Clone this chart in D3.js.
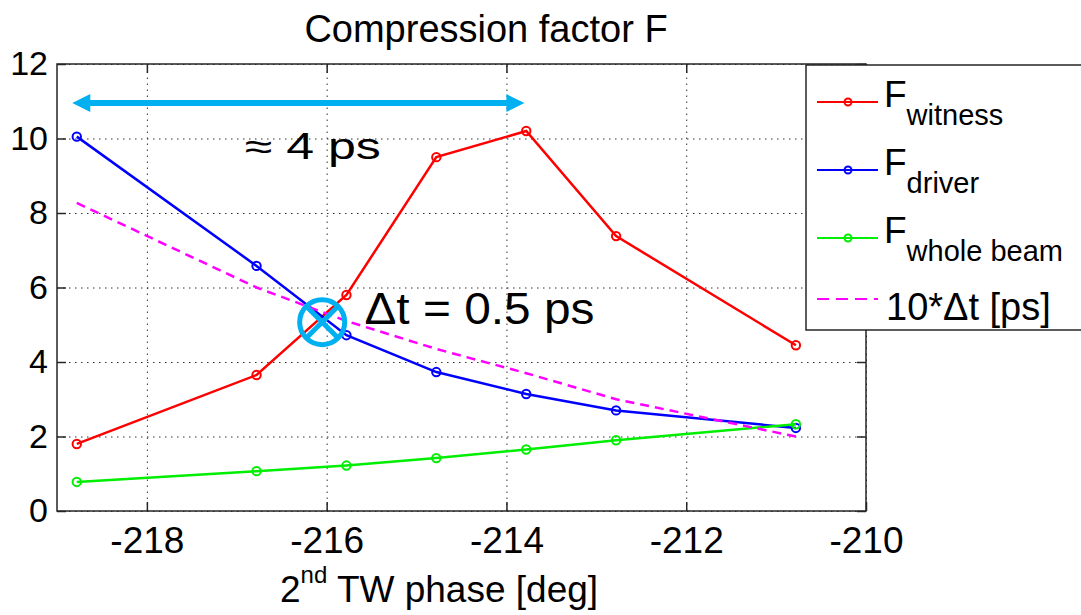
<!DOCTYPE html>
<html>
<head>
<meta charset="utf-8">
<script src="https://cdn.jsdelivr.net/npm/d3@7"></script>
<style>
  body { margin: 0; background: #fff; }
  svg text { font-family: "Liberation Sans", Arial, sans-serif; fill: #000; }
</style>
</head>
<body>
<div id="chart"></div>
<script>
// values
var phase = [-218.78, -216.78, -215.78, -214.78, -213.78, -212.78, -210.78];
var fWitness = [1.8, 3.65, 5.8, 9.5, 10.2, 7.38, 4.45];
var fDriver = [10.05, 6.58, 4.72, 3.73, 3.14, 2.7, 2.23];
var fWhole = [0.78, 1.07, 1.22, 1.42, 1.65, 1.9, 2.33];
var dt10 = [8.27, 6.0, 5.1, 4.35, 3.7, 3.0, 2.0];

var xTicks = [-218, -216, -214, -212, -210];
var yTicks = [0, 2, 4, 6, 8, 10, 12];
var seriesNames = ["witness", "driver", "whole beam"];

var svgWidth = 1081;
var svgHeight = 615;
var margin = { top: 64, right: 215, bottom: 104, left: 57 };
var width = svgWidth - margin.left - margin.right;
var height = svgHeight - margin.top - margin.bottom;

var svg = d3.select("#chart")
  .append("svg")
  .attr("width", svgWidth)
  .attr("height", svgHeight);

var chartGroup = svg.append("g")
  .attr("transform", `translate(${margin.left}, ${margin.top})`);

var xScale = d3.scaleLinear().domain([-219, -210]).range([0, width]);
var yScale = d3.scaleLinear().domain([0, 12]).range([height, 0]);

// grid
chartGroup.append("g")
  .attr("transform", `translate(0, ${height})`)
  .call(d3.axisBottom(xScale).tickValues(xTicks).tickSize(-height).tickFormat(""))
  .call(g => g.select(".domain").remove())
  .selectAll("line")
  .attr("stroke", "#333")
  .attr("stroke-dasharray", "1.5,4.5");

chartGroup.append("g")
  .call(d3.axisLeft(yScale).tickValues(yTicks).tickSize(-width).tickFormat(""))
  .call(g => g.select(".domain").remove())
  .selectAll("line")
  .attr("stroke", "#333")
  .attr("stroke-dasharray", "1.5,4.5");

// axes with inward ticks (plain hyphen for negatives, like the original)
var plain = d => String(d);
var bottomAxis = d3.axisBottom(xScale).tickValues(xTicks).tickFormat(plain).tickSize(-9).tickSizeOuter(0).tickPadding(16);
var leftAxis = d3.axisLeft(yScale).tickValues(yTicks).tickFormat(plain).tickSize(-9).tickSizeOuter(0).tickPadding(9);

var xAxisG = chartGroup.append("g")
  .attr("transform", `translate(0, ${height})`)
  .call(bottomAxis);
xAxisG.selectAll("text").style("font-size", "37px");

var yAxisG = chartGroup.append("g")
  .call(leftAxis);
yAxisG.selectAll("text").style("font-size", "34px");

chartGroup.append("g")
  .call(d3.axisTop(xScale).tickValues(xTicks).tickSize(-9).tickSizeOuter(0).tickFormat(""));
chartGroup.append("g")
  .attr("transform", `translate(${width}, 0)`)
  .call(d3.axisRight(yScale).tickValues(yTicks).tickSize(-9).tickSizeOuter(0).tickFormat(""));

chartGroup.selectAll(".domain").remove();
chartGroup.selectAll(".tick line").filter(function() { return !this.getAttribute("stroke-dasharray"); })
  .attr("stroke", "#262626").attr("stroke-width", 1.5);

chartGroup.append("rect")
  .attr("width", width)
  .attr("height", height)
  .attr("fill", "none")
  .attr("stroke", "#262626")
  .attr("stroke-width", 1.5);

// series
var series = [
  { vals: fWitness, color: "#ff0000", marker: true },
  { vals: fDriver, color: "#0000ff", marker: true },
  { vals: fWhole, color: "#00ee00", marker: true },
  { vals: dt10, color: "#ff00ff", marker: false }
];

var line = d3.line()
  .x((d, i) => xScale(phase[i]))
  .y(d => yScale(d));

series.forEach(function(s) {
  chartGroup.append("path")
    .datum(s.vals)
    .attr("d", line)
    .attr("fill", "none")
    .attr("stroke", s.color)
    .attr("stroke-width", 2.5)
    .attr("stroke-dasharray", s.marker ? null : "9,6");
  if (s.marker) {
    chartGroup.selectAll(null)
      .data(s.vals)
      .enter()
      .append("circle")
      .attr("cx", (d, i) => xScale(phase[i]))
      .attr("cy", d => yScale(d))
      .attr("r", 4.2)
      .attr("fill", "none")
      .attr("stroke", s.color)
      .attr("stroke-width", 2);
  }
});

// annotations
var cyan = "#00b0f0";
var ay = yScale(10.95);
var ax0 = xScale(-218.83), ax1 = xScale(-213.8);
chartGroup.append("line")
  .attr("x1", ax0 + 14).attr("x2", ax1 - 14)
  .attr("y1", ay).attr("y2", ay)
  .attr("stroke", cyan).attr("stroke-width", 6);
chartGroup.append("path")
  .attr("d", `M${ax0},${ay} L${ax0 + 18},${ay - 9} L${ax0 + 18},${ay + 9} Z M${ax1},${ay} L${ax1 - 18},${ay - 9} L${ax1 - 18},${ay + 9} Z`)
  .attr("fill", cyan);

chartGroup.append("text")
  .attr("x", xScale(-216.91))
  .attr("y", yScale(9.45))
  .attr("textLength", 136)
  .attr("lengthAdjust", "spacingAndGlyphs")
  .style("font-size", "36px")
  .text("\u2248 4 ps");

var cx = xScale(-216.05), cy = yScale(5.07), cr = 22.5, k = cr * Math.SQRT1_2;
chartGroup.append("circle")
  .attr("cx", cx).attr("cy", cy).attr("r", cr)
  .attr("fill", "none").attr("stroke", cyan).attr("stroke-width", 5);
chartGroup.append("path")
  .attr("d", `M${cx - k},${cy - k} L${cx + k},${cy + k} M${cx + k},${cy - k} L${cx - k},${cy + k}`)
  .attr("stroke", cyan).attr("stroke-width", 5);

chartGroup.append("text")
  .attr("x", xScale(-215.58))
  .attr("y", yScale(5.02))
  .attr("textLength", 230)
  .attr("lengthAdjust", "spacingAndGlyphs")
  .style("font-size", "44px")
  .text("\u0394t = 0.5 ps");

// title and x label
svg.append("text")
  .attr("x", 486)
  .attr("y", 42)
  .attr("text-anchor", "middle")
  .style("font-size", "38px")
  .text("Compression factor F");

var xl = svg.append("text")
  .attr("x", 280)
  .attr("y", 602)
  .style("font-size", "37px");
xl.append("tspan").text("2");
xl.append("tspan").attr("dy", -19).style("font-size", "24px").text("nd");
xl.append("tspan").attr("dy", 19).text(" TW phase [deg]");

// legend
var legend = svg.append("g").attr("transform", "translate(806, 65)");
legend.append("rect")
  .attr("width", 300).attr("height", 265)
  .attr("fill", "#fff").attr("stroke", "#262626").attr("stroke-width", 1.5);

var rows = legend.selectAll("g.row")
  .data(series)
  .enter()
  .append("g")
  .attr("class", "row")
  .attr("transform", (d, i) => `translate(0, ${[37, 105, 173, 234][i]})`);

rows.append("line")
  .attr("x1", 11).attr("x2", 72)
  .attr("stroke", d => d.color).attr("stroke-width", 2)
  .attr("stroke-dasharray", d => d.marker ? null : "12,7");
rows.filter(d => d.marker).append("circle")
  .attr("cx", 42).attr("r", 3.5)
  .attr("fill", "none").attr("stroke", d => d.color).attr("stroke-width", 2);

rows.filter(d => d.marker).append("text")
  .attr("x", 78).attr("y", 5)
  .style("font-size", "37px")
  .text("F")
  .append("tspan")
  .attr("dy", 18)
  .style("font-size", "29px")
  .text((d, i) => seriesNames[i]);

rows.filter(d => !d.marker).append("text")
  .attr("x", 80).attr("y", 21)
  .style("font-size", "38px")
  .text("10*\u0394t [ps]");
</script>
</body>
</html>
